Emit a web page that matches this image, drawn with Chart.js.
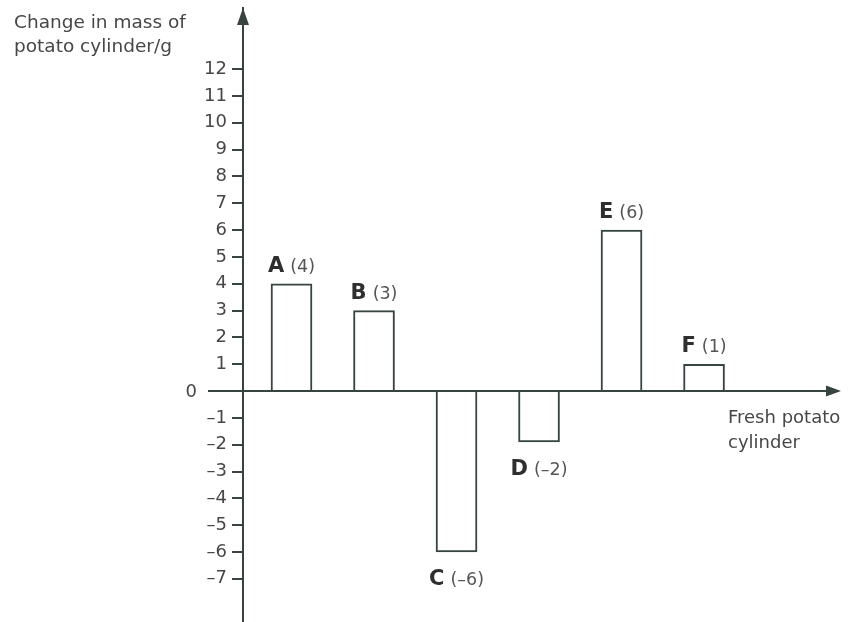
<!DOCTYPE html>
<html>
<head>
<meta charset="utf-8">
<script src="https://cdn.jsdelivr.net/npm/chart.js@4"></script>
<style>
  html, body { margin:0; padding:0; background:#fff; }
  #chart { display:block; }
</style>
</head>
<body>
<canvas id="chart" width="849" height="622"></canvas>
<script>
/* ====== data ====== */
const cylinders = ['A','B','C','D','E','F'];
const massChange = [4, 3, -6, -1.9, 6, 1];
const barNotes = ['(4)','(3)','(–6)','(–2)','(6)','(1)'];
const yTicks = [-7,-6,-5,-4,-3,-2,-1,0,1,2,3,4,5,6,7,8,9,10,11,12];
const yTitle = ['Change in mass of','potato cylinder/g'];
const xTitle = ['Fresh potato','cylinder'];

const AXIS = '#37443f';
const TEXT = '#474747';

/* ====== arrows, titles, bar labels ====== */
const decor = {
  id:'decor',
  afterDraw(chart){
    const {ctx, chartArea:a, scales:{y}} = chart;
    const y0 = y.getPixelForValue(0);
    ctx.save();
    ctx.strokeStyle = AXIS; ctx.fillStyle = AXIS; ctx.lineWidth = 2;

    // x axis with arrow
    ctx.beginPath();
    ctx.moveTo(a.left - 35, y0); ctx.lineTo(a.right - 10, y0); ctx.stroke();
    ctx.beginPath();
    ctx.moveTo(a.right + 1, y0); ctx.lineTo(a.right - 14, y0 - 5.5); ctx.lineTo(a.right - 14, y0 + 5.5);
    ctx.closePath(); ctx.fill();

    // y axis arrow
    ctx.beginPath();
    ctx.moveTo(a.left, a.top); ctx.lineTo(a.left - 6, a.top + 17); ctx.lineTo(a.left + 6, a.top + 17);
    ctx.closePath(); ctx.fill();

    // zero label
    ctx.fillStyle = TEXT;
    ctx.font = '18px "DejaVu Sans"';
    ctx.textAlign = 'right'; ctx.textBaseline = 'middle';
    ctx.fillText('0', a.left - 46, y0 + 1);

    // axis titles
    ctx.textAlign = 'left'; ctx.textBaseline = 'alphabetic';
    ctx.font = '18.5px "DejaVu Sans"';
    ctx.fillText(yTitle[0], 14, 28);
    ctx.fillText(yTitle[1], 14, 52);
    ctx.font = '18px "DejaVu Sans"';
    ctx.fillText(xTitle[0], a.right - 112, y0 + 32);
    ctx.fillText(xTitle[1], a.right - 112, y0 + 57);

    // bar labels
    const meta = chart.getDatasetMeta(0);
    meta.data.forEach((el, i) => {
      ctx.font = 'bold 21px "DejaVu Sans"';
      const wL = ctx.measureText(cylinders[i]).width;
      ctx.font = '17.5px "DejaVu Sans"';
      const wN = ctx.measureText(barNotes[i]).width;
      const gap = 6;
      const x0 = el.x - (wL + gap + wN) / 2;
      const by = massChange[i] >= 0 ? el.y - 12 : el.y + 33;
      ctx.fillStyle = '#2f2f2f';
      ctx.font = 'bold 21px "DejaVu Sans"';
      ctx.fillText(cylinders[i], x0, by);
      ctx.fillStyle = '#555';
      ctx.font = '17.5px "DejaVu Sans"';
      ctx.fillText(barNotes[i], x0 + wL + gap, by);
    });
    ctx.restore();
  }
};

new Chart(document.getElementById('chart'), {
  type:'bar',
  data:{
    datasets:[{
      data: massChange.map((v, i) => ({x: i + 1, y: v})),
      backgroundColor:'#fff',
      borderColor: AXIS,
      borderWidth: 2,
      borderSkipped: 'start',
      barThickness: 41
    }]
  },
  options:{
    responsive:false,
    animation:false,
    layout:{padding:{left:0, right:9, top:8, bottom:0}},
    plugins:{legend:{display:false}, tooltip:{enabled:false}},
    scales:{
      x:{
        type:'linear', display:false, offset:false,
        min:0.412, max:7.648
      },
      y:{
        min:-8.61, max:14.28,
        afterFit: s => { s.width = 243; s.paddingTop = 0; s.paddingBottom = 0; },
        afterBuildTicks: s => { s.ticks = yTicks.map(v => ({value:v})); },
        border:{display:true, color:AXIS, width:2},
        grid:{drawOnChartArea:false, color:AXIS, tickColor:AXIS, tickLength:11, lineWidth:2},
        ticks:{
          padding:5,
          color:TEXT,
          font:{family:'DejaVu Sans', size:18},
          callback: v => v === 0 ? '' : (v < 0 ? '–' + Math.abs(v) : String(v))
        }
      }
    }
  },
  plugins:[decor]
});
</script>
</body>
</html>
